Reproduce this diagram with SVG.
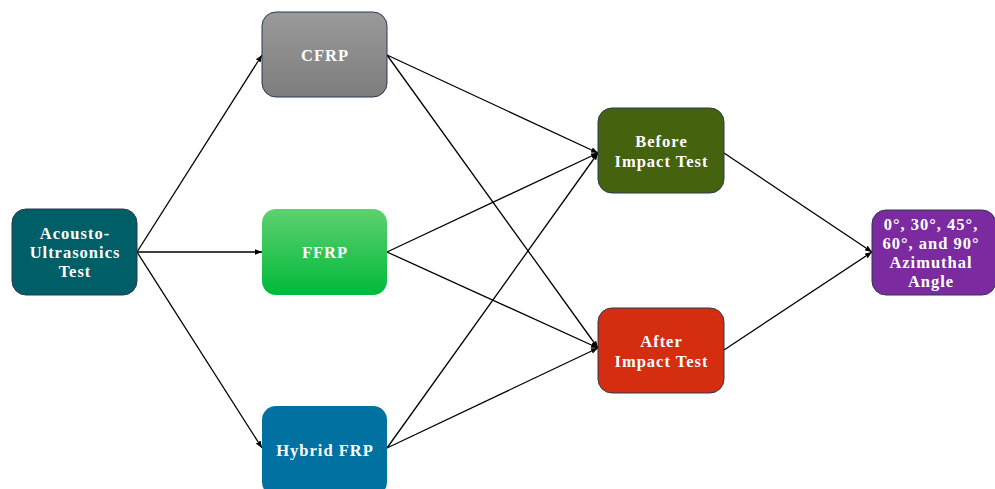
<svg xmlns="http://www.w3.org/2000/svg" width="995" height="489" viewBox="0 0 995 489">
<defs>
<linearGradient id="gGrey" x1="0" y1="0" x2="0" y2="1"><stop offset="0" stop-color="#9a9a9a"/><stop offset="1" stop-color="#7d7d7d"/></linearGradient>
<linearGradient id="gGreen" x1="0" y1="0" x2="0" y2="1"><stop offset="0" stop-color="#5fd170"/><stop offset="1" stop-color="#00b93a"/></linearGradient>
<marker id="ah" viewBox="0 0 10 10" refX="10" refY="5" markerWidth="7" markerHeight="7" markerUnits="userSpaceOnUse" orient="auto"><path d="M0,1 L10,5 L0,9 z" fill="#000"/></marker>
<style>
.box{stroke:#2b3a50;stroke-width:1}
.t{font-family:"Liberation Serif","Times New Roman",serif;font-weight:bold;font-size:16.5px;letter-spacing:1px;fill:#fff;text-anchor:middle}
.c{stroke:#000;stroke-width:1.3;fill:none;marker-end:url(#ah)}
</style>
</defs>
<rect width="995" height="489" fill="#fff"/>
<g id="connectors">
<line class="c" x1="137" y1="252" x2="262" y2="55"/>
<line class="c" x1="137" y1="252" x2="262" y2="252"/>
<line class="c" x1="137" y1="252" x2="262" y2="448"/>
<line class="c" x1="387" y1="55" x2="598" y2="153"/>
<line class="c" x1="387" y1="55" x2="598" y2="348"/>
<line class="c" x1="387" y1="252" x2="598" y2="153"/>
<line class="c" x1="387" y1="252" x2="598" y2="348"/>
<line class="c" x1="387" y1="448" x2="598" y2="153"/>
<line class="c" x1="387" y1="448" x2="598" y2="348"/>
<line class="c" x1="724" y1="153" x2="872" y2="252"/>
<line class="c" x1="724" y1="350" x2="872" y2="252"/>
</g>
<g id="acousto">
<rect class="box" x="12" y="209" width="125" height="86" rx="14" fill="#005f66"/>
<text class="t" x="75" y="239">Acousto-</text>
<text class="t" x="75" y="258">Ultrasonics</text>
<text class="t" x="75" y="277">Test</text>
</g>
<g id="cfrp">
<rect class="box" x="262" y="12" width="125" height="85" rx="14" fill="url(#gGrey)"/>
<text class="t" x="325" y="61">CFRP</text>
</g>
<g id="ffrp">
<rect x="262" y="209" width="125" height="86" rx="14" fill="url(#gGreen)"/>
<text class="t" x="325" y="258">FFRP</text>
</g>
<g id="hybrid">
<rect x="262" y="406" width="125" height="90" rx="14" fill="#0071a1"/>
<text class="t" x="325" y="456">Hybrid FRP</text>
</g>
<g id="before">
<rect class="box" x="598" y="108" width="126" height="85" rx="14" fill="#45620f"/>
<text class="t" x="661.5" y="147">Before</text>
<text class="t" x="661.5" y="167">Impact Test</text>
</g>
<g id="after">
<rect class="box" x="598" y="308" width="126" height="85" rx="14" fill="#d52d10"/>
<text class="t" x="661.5" y="347">After</text>
<text class="t" x="661.5" y="367">Impact Test</text>
</g>
<g id="azimuthal">
<rect class="box" x="872" y="210" width="124" height="85" rx="14" fill="#7b2a9f"/>
<text class="t" x="931" y="230">0°, 30°, 45°,</text>
<text class="t" x="931" y="249">60°, and 90°</text>
<text class="t" x="931" y="268">Azimuthal</text>
<text class="t" x="931" y="287">Angle</text>
</g>
</svg>
